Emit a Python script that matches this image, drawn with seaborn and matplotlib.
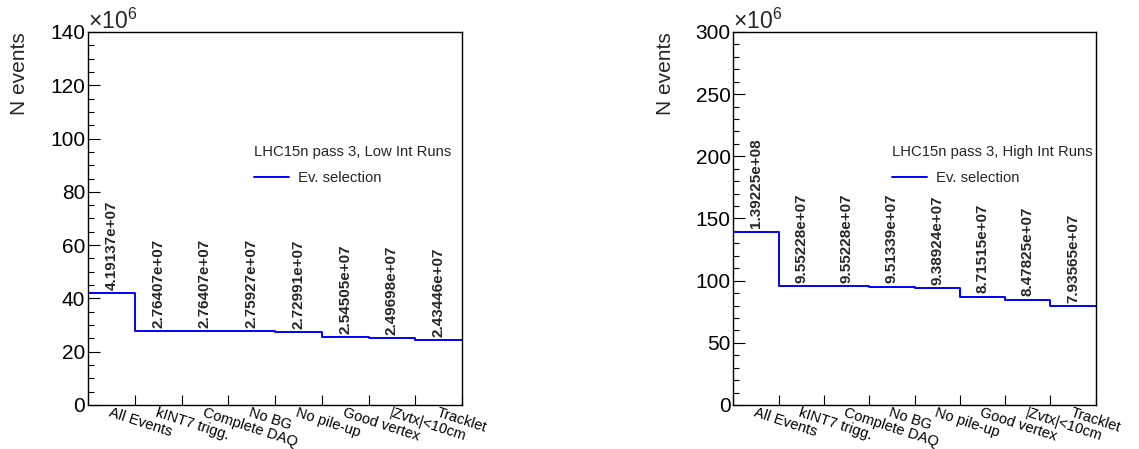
import matplotlib
matplotlib.use("Agg")
import matplotlib.pyplot as plt
from matplotlib.ticker import MultipleLocator, FuncFormatter
import numpy as np
import pandas as pd
import seaborn as sns

# Event-selection cut flow
cuts = ["All Events", "kINT7 trigg.", "Complete DAQ", "No BG", "No pile-up",
        "Good vertex", "|Zvtx|<10cm", "Tracklet"]
low_int = [4.19137e7, 2.76407e7, 2.76407e7, 2.75927e7, 2.72991e7,
           2.54505e7, 2.49698e7, 2.43446e7]
high_int = [1.39225e8, 9.55228e7, 9.55228e7, 9.51339e7, 9.38924e7,
            8.71515e7, 8.47825e7, 7.93565e7]
titles = ["LHC15n pass 3, Low Int Runs", "LHC15n pass 3, High Int Runs"]
entry_label = "Ev. selection"
y_max = [140e6, 300e6]
y_major = [20e6, 50e6]
y_minor = [5e6, 10e6]

sns.set_style("ticks")
plt.rcParams["font.family"] = ["Liberation Sans", "DejaVu Sans"]
plt.rcParams["mathtext.fontset"] = "custom"
plt.rcParams["mathtext.rm"] = "Liberation Sans"
plt.rcParams["axes.edgecolor"] = "black"
plt.rcParams["xtick.color"] = "black"
plt.rcParams["ytick.color"] = "black"

W, H = 1139, 449
fig = plt.figure(figsize=(W / 100, H / 100), dpi=100)
axes = [fig.add_axes([88 / W, 1 - 405 / H, 374 / W, 373 / H]),
        fig.add_axes([733.3 / W, 1 - 405 / H, 362.4 / W, 373 / H])]
legend_xy = [(254, 145), (892, 145)]
label_x = [-0.158, -0.16]

edges = np.arange(len(cuts) + 1)
centers = edges[:-1] + 0.5

for ax, vals, title, ymax, maj, mnr, lxy, lx in zip(
        axes, [low_int, high_int], titles, y_max, y_major, y_minor,
        legend_xy, label_x):
    df = pd.DataFrame({"bin": centers, "events": vals})
    sns.histplot(data=df, x="bin", weights="events",
                 bins=[float(e) for e in edges], element="step", fill=False,
                 color="#0000ff", linewidth=1.4, ax=ax)
    ax.set_xlim(0, len(cuts))
    ax.set_ylim(0, ymax)
    for sp in ax.spines.values():
        sp.set_visible(True)
        sp.set_linewidth(1.0)
        sp.set_color("black")

    # y axis in units of 10^6
    ax.yaxis.set_major_locator(MultipleLocator(maj))
    ax.yaxis.set_minor_locator(MultipleLocator(mnr))
    ax.yaxis.set_major_formatter(FuncFormatter(lambda v, p: f"{v / 1e6:g}"))
    ax.tick_params(axis="y", which="major", direction="in", length=8.6,
                   width=0.8, labelsize=15, pad=2, left=True, right=False)
    ax.tick_params(axis="y", which="minor", direction="in", length=4.3,
                   width=0.8, left=True, right=False)
    ax.annotate(r"$\mathregular{×10^{6}}$", xy=(0, 1), xycoords="axes fraction",
                xytext=(0, 2.5), textcoords="offset points",
                ha="left", va="baseline", fontsize=16.5)

    # x axis: ticks at bin edges, labels at bin centres
    ax.set_xticks(edges)
    ax.set_xticklabels([])
    ax.set_xticks(centers, labels=cuts, minor=True)
    ax.tick_params(axis="x", which="major", direction="in", length=7.2,
                   width=0.8, top=False, bottom=True)
    ax.tick_params(axis="x", which="minor", length=0, labelsize=10.5, pad=0.3)
    for lbl in ax.get_xticklabels(minor=True):
        lbl.set_rotation(-18)
        lbl.set_ha("left")
        lbl.set_va("top")
        lbl.set_rotation_mode("anchor")

    ax.set_xlabel("")
    ax.set_ylabel("N events", fontsize=15, loc="top")
    ax.yaxis.set_label_coords(lx, 1.0)

    # bin contents written above each bin
    for c, v in zip(centers, vals):
        ax.annotate(f"{v:g}", xy=(c, v), xytext=(0, 2.5),
                    textcoords="offset points", rotation=90, ha="center",
                    va="bottom", fontsize=11, fontweight="bold")

    step_line = ax.lines[-1]
    ax.legend(handles=[step_line], labels=[entry_label], title=title,
              loc="upper left", bbox_to_anchor=(lxy[0] / W, 1 - lxy[1] / H),
              bbox_transform=fig.transFigure, frameon=False, fontsize=10.7,
              title_fontsize=10.7, alignment="left", borderpad=0,
              borderaxespad=0, handlelength=2.35, handletextpad=0.6,
              labelspacing=0.8)

fig.savefig("out.png", dpi=100)
